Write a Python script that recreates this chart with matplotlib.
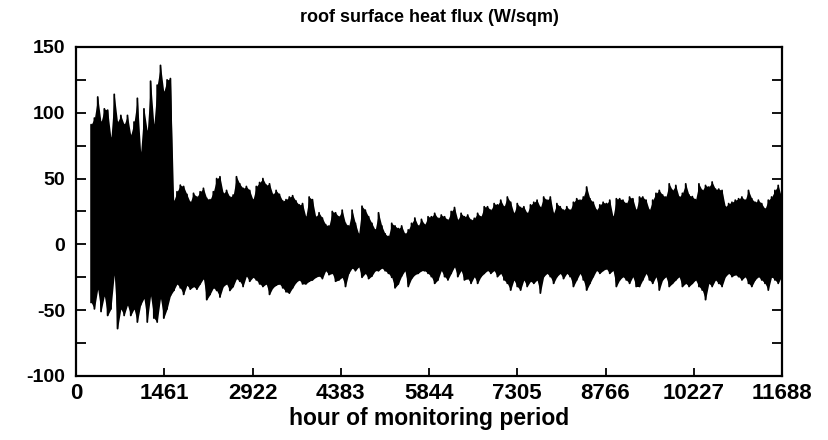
import numpy as np
import matplotlib
matplotlib.use("Agg")
import matplotlib.pyplot as plt
from matplotlib.ticker import MultipleLocator

plt.rcParams["font.family"] = ["Liberation Sans", "DejaVu Sans"]
plt.rcParams["axes.unicode_minus"] = False

# envelope of the hourly roof heat flux (W/sqm)
UPPER = [
    # first, high-amplitude block
    91, 96, 112, 93, 103, 102, 81, 114, 93, 98, 91, 98, 83, 93, 111, 70,
    103, 86, 124, 91, 121, 136, 116, 125, 126,
    33, 40, 45, 44, 38, 32,
    38.8, 36, 40, 42.6, 35, 34, 40, 50, 51.4, 38.8, 41, 36, 37.5, 51.4, 46, 42.6,
    44, 41, 34, 44, 47, 50, 45, 46, 38, 41, 38, 33, 34, 36, 37, 33, 30, 31, 21, 36,
    34, 21, 24, 20, 15, 14, 25, 24, 21, 26, 16, 14, 26, 16, 8, 29,
    26, 21, 16, 11, 24, 14, 8, 6, 16, 14, 12, 14, 8, 11, 16, 20, 14, 19, 15, 21,
    21, 23.6, 19.8, 22.3, 21, 18.5, 25, 28, 18.5, 23.6, 21, 22.3, 18.5, 19.8, 23.6, 21,
    28.6, 28.6, 26, 31, 30, 33.6, 28.6, 36, 32, 23.6, 31, 28, 28.6, 23.6, 30, 32, 33.6, 28, 36, 33.6,
    36, 23.6, 31, 28.6, 26, 28.6, 26, 32, 34.7, 33.6, 36, 43.6, 34.7, 32, 26, 30,
    32, 31, 33.6, 21, 34.7, 34.7, 33.6, 31, 36, 34.7, 26, 36, 36, 33.6, 26, 33.6, 38.8, 41, 37.5, 36,
    46, 41, 44.8, 36, 38.8, 46, 37.5, 36.3, 34, 46, 41, 44.8, 43.6, 47.4, 42, 42,
    41, 28.6, 31, 32, 33.6, 34.7, 36, 33.6, 41, 34.7, 32, 33.6, 31, 27, 33.6, 36, 41, 44.8, 36,
]
LOWER = [
    -44, -49, -34, -51, -39, -54, -49, -23, -64, -49, -54, -46, -54, -49, -59, -46,
    -41, -59, -39, -56, -59, -41, -56, -49, -39,
    -35, -30, -33, -38, -31, -34,
    -32, -34, -30, -26, -42, -38, -33, -35, -40, -32, -30, -35, -32, -26, -28, -32,
    -24, -28, -25, -27, -30, -32, -30, -38, -33, -31, -30, -33, -36, -37, -33, -29, -27, -30, -30, -28,
    -27, -25, -24, -26, -20, -23, -22, -28, -27, -25, -32, -22, -18, -20, -17, -25,
    -22, -26, -24, -20, -20, -18, -20, -22, -25, -33, -30, -24, -20, -32, -26, -23, -22, -20, -20, -22,
    -24.5, -29.6, -27, -19.8, -24.5, -27, -22, -17, -24.5, -19.8, -27, -26, -29.6, -24.5, -29.6, -24.5,
    -22, -19.8, -22, -19.8, -24.5, -22, -27, -29.6, -34.7, -27, -32, -34.7, -27, -32, -28, -29.6, -27, -37, -24.5, -22,
    -24.5, -29.6, -24.5, -22, -26, -22, -24.5, -32, -27, -22, -27, -34.7, -29.6, -24.5, -19.8, -22,
    -19.8, -18.5, -22, -19.8, -32, -27, -24.5, -27, -29.6, -24.5, -32, -32, -27, -22, -27, -29.6, -24.5, -34.7, -27, -24.5,
    -32, -29.6, -27, -24.5, -32, -29.6, -32, -29.6, -27, -32, -34.7, -42, -29.6, -32, -27, -29.6,
    -32, -24.5, -22, -24.5, -23, -24.5, -27, -24.5, -29.6, -32, -27, -24.5, -27, -29.6, -34.7, -24.5, -27, -29.6, -24.5,
]
FIRST_HOUR, LAST_HOUR = 250, 11680
XTICKS = [0, 1461, 2922, 4383, 5844, 7305, 8766, 10227, 11688]

hours = np.linspace(FIRST_HOUR, LAST_HOUR, len(UPPER))
# daily swing: trough then peak at every sample
xs = np.repeat(hours, 2)
ys = np.empty(2 * len(UPPER))
ys[0::2] = LOWER
ys[1::2] = UPPER

fig = plt.figure(figsize=(8.29, 4.40), dpi=100)
ax = fig.add_axes([0.0917, 0.1455, 0.8516, 0.7477])
ax.fill_between(hours, LOWER, UPPER, color="black", linewidth=0)
ax.plot(xs, ys, color="black", linewidth=1.3)

ax.set_xlim(0, 11688)
ax.set_ylim(-100, 150)
ax.set_xticks(XTICKS)
ax.yaxis.set_major_locator(MultipleLocator(50))
ax.yaxis.set_minor_locator(MultipleLocator(25))
ax.tick_params(axis="x", direction="in", length=6, width=1.3, top=False,
               labelsize=16, pad=5)
ax.tick_params(axis="y", which="both", direction="in", length=7, width=1.3,
               right=True, labelsize=14, pad=8)
for lab in ax.get_xticklabels() + ax.get_yticklabels():
    lab.set_fontweight("bold")
for sp in ax.spines.values():
    sp.set_linewidth(1.6)

ax.set_title("roof surface heat flux (W/sqm)", fontsize=13, fontweight="bold", pad=18)
ax.set_xlabel("hour of monitoring period", fontsize=16.5, fontweight="bold", labelpad=2)

fig.savefig("out.png", dpi=100, facecolor="white")
